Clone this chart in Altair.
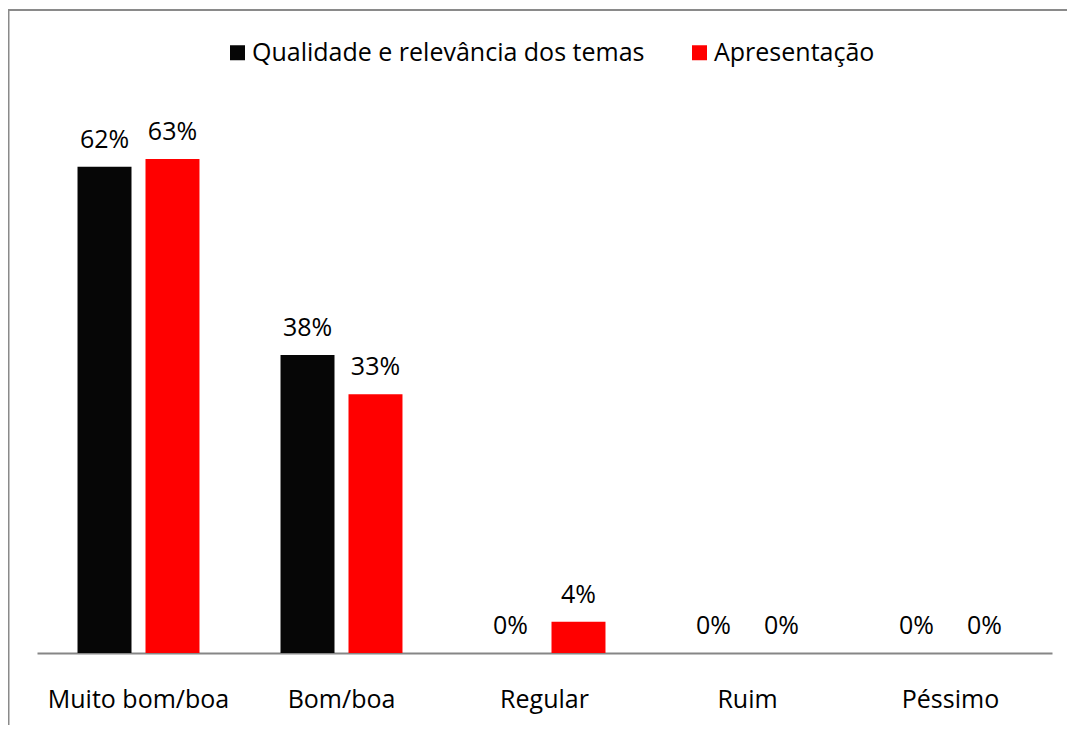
import altair as alt
import pandas as pd

categories = ["Muito bom/boa", "Bom/boa", "Regular", "Ruim", "Péssimo"]
series_names = ["Qualidade e relevância dos temas", "Apresentação"]
qualidade = [0.62, 0.38, 0.0, 0.0, 0.0]
apresentacao = [0.63, 0.33, 0.04, 0.0, 0.0]
colors = ["#060606", "#ff0000"]

rows = []
for c, v in zip(categories, qualidade):
    rows.append({"cat": c, "serie": series_names[0], "val": v})
for c, v in zip(categories, apresentacao):
    rows.append({"cat": c, "serie": series_names[1], "val": v})
df = pd.DataFrame(rows)

FONT = "Open Sans"
FS = 25

x_enc = alt.X("cat:N", sort=categories, title=None,
              scale=alt.Scale(paddingInner=0, paddingOuter=0),
              axis=alt.Axis(labelAngle=0, ticks=False, labelPadding=54,
                            labelBaseline="alphabetic", labelFont=FONT,
                            labelFontSize=FS, labelColor="#000000", labelLimit=0,
                            domainColor="#868686", domainWidth=2, grid=False))
xoff = alt.XOffset("serie:N", sort=series_names,
                   scale=alt.Scale(paddingInner=0.206, paddingOuter=0.596))
y_enc = alt.Y("val:Q", scale=alt.Scale(domain=[0, 0.7]), axis=None)

bars = alt.Chart(df).mark_bar(stroke=None).encode(
    x=x_enc, xOffset=xoff, y=y_enc,
    color=alt.Color("serie:N", sort=series_names,
                    scale=alt.Scale(domain=series_names, range=colors),
                    legend=alt.Legend(title=None, orient="none", direction="horizontal",
                                      legendX=188, legendY=-64,
                                      symbolType="square", symbolSize=225,
                                      symbolStrokeWidth=0, labelFont=FONT,
                                      labelFontSize=FS, labelColor="#000000",
                                      labelLimit=0,
                                      labelOffset=2, columnPadding=42, padding=0)),
)

labels = alt.Chart(df).mark_text(font=FONT, fontSize=FS, baseline="alphabetic",
                                 dy=-19, color="#000000").encode(
    x=alt.X("cat:N", sort=categories), xOffset=xoff, y=y_enc,
    text=alt.Text("val:Q", format=".0%"),
)

frame_df = pd.DataFrame({"k": [1]})
left_line = alt.Chart(frame_df).mark_rule(color="#8a8a8a", strokeWidth=2).encode(
    x=alt.value(-28.5), y=alt.value(-94), y2=alt.value(700))
top_line = alt.Chart(frame_df).mark_rule(color="#8a8a8a", strokeWidth=2).encode(
    x=alt.value(-29.5), x2=alt.value(1100), y=alt.value(-94))

chart = alt.layer(left_line, top_line, bars, labels).properties(
    width=1015, height=549,
    autosize=alt.AutoSizeParams(type="none"),
    padding={"left": 29, "top": 96, "right": 15, "bottom": 72},
).configure(background="#ffffff").configure_view(stroke=None, strokeWidth=0)

chart.save("out.html", embed_options={"renderer": "svg", "actions": False})
